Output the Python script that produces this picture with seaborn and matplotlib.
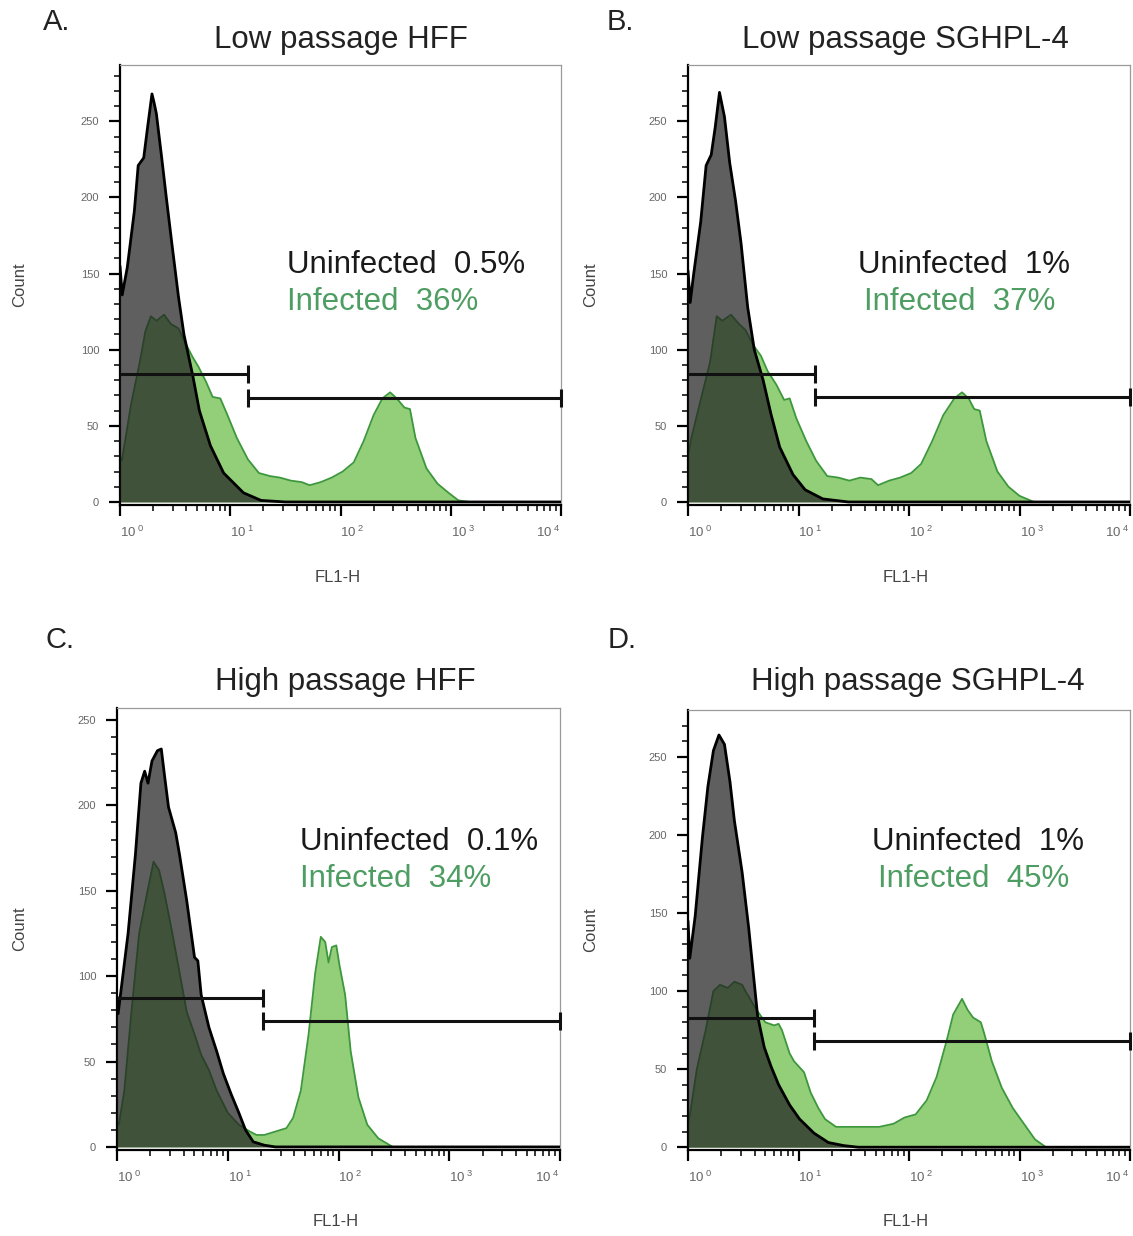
import numpy as np
import pandas as pd
import seaborn as sns
import matplotlib.pyplot as plt
from matplotlib.ticker import FixedLocator, NullFormatter, LogLocator

sns.set_style("ticks")
plt.rcParams['font.family'] = ['Liberation Sans', 'DejaVu Sans']
plt.rcParams['mathtext.fontset'] = 'custom'
plt.rcParams['mathtext.rm'] = 'Liberation Sans'
plt.rcParams['mathtext.default'] = 'regular'

# histogram outlines: FL1-H position in decades, event count
a_neg_dec = [0.0, 0.02, 0.066, 0.13, 0.165, 0.215, 0.25, 0.29, 0.31, 0.33, 0.38, 0.42, 0.47, 0.53, 0.58, 0.66, 0.72, 0.82, 0.94, 1.12, 1.28, 1.5, 4.0]
a_neg_cnt = [155, 136, 154, 191, 221, 226, 246, 268, 262, 255, 225, 200, 170, 135, 110, 83, 60, 37, 19, 6, 1, 0, 0]
a_pos_dec = [0.0, 0.017, 0.10, 0.18, 0.23, 0.28, 0.33, 0.40, 0.46, 0.53, 0.595, 0.66, 0.71, 0.78, 0.84, 0.91, 0.975, 1.06, 1.16, 1.26,
             1.36, 1.45, 1.55, 1.65, 1.72, 1.82, 1.92, 2.02, 2.12, 2.21, 2.30, 2.38, 2.45, 2.51, 2.58, 2.63, 2.68, 2.78, 2.88, 2.98,
             3.07, 3.17, 4.0]
a_pos_cnt = [30, 27, 64, 92, 112, 122, 119, 123, 117, 114, 104, 95, 89, 79, 69, 68, 57, 42, 28, 19,
             17, 16, 14, 13, 11, 13, 16, 20, 26, 40, 57, 68, 72, 68, 62, 61, 42, 22, 12, 6,
             1, 0, 0]

b_neg_dec = [0.0, 0.02, 0.05, 0.115, 0.164, 0.21, 0.246, 0.285, 0.33, 0.377, 0.43, 0.48, 0.54, 0.60, 0.68, 0.75, 0.83, 0.95, 1.06, 1.22, 1.45, 4.0]
b_neg_cnt = [152, 131, 149, 184, 221, 228, 246, 269, 253, 223, 198, 170, 128, 100, 80, 58, 36, 18, 8, 2, 0, 0]
b_pos_dec = [0.0, 0.03, 0.115, 0.2, 0.26, 0.31, 0.39, 0.46, 0.52, 0.59, 0.66, 0.72, 0.80, 0.87, 0.92, 0.98, 1.07, 1.16, 1.26, 1.36,
             1.46, 1.56, 1.66, 1.72, 1.82, 1.92, 2.02, 2.11, 2.21, 2.31, 2.41, 2.48, 2.54, 2.59, 2.64, 2.70, 2.80, 2.90, 3.0, 3.13,
             4.0]
b_pos_cnt = [30, 42, 67, 92, 122, 119, 123, 117, 113, 103, 96, 86, 77, 67, 68, 55, 40, 27, 17, 16,
             14, 16, 15, 11, 14, 16, 19, 25, 40, 57, 68, 72, 68, 61, 60, 40, 20, 10, 4, 0,
             0]

c_neg_dec = [0.0, 0.01, 0.10, 0.166, 0.216, 0.25, 0.28, 0.316, 0.365, 0.40, 0.43, 0.465, 0.53, 0.565, 0.63, 0.70, 0.73, 0.76, 0.83, 0.90,
             0.96, 1.03, 1.10, 1.16, 1.23, 1.33, 1.43, 4.0]
c_neg_cnt = [88, 78, 125, 171, 213, 220, 213, 226, 232, 233, 217, 199, 184, 171, 144, 111, 109, 89, 70, 56,
             43, 31, 20, 10, 3, 1, 0, 0]
c_pos_dec = [0.0, 0.017, 0.066, 0.13, 0.20, 0.27, 0.33, 0.38, 0.43, 0.50, 0.565, 0.63, 0.70, 0.76, 0.83, 0.90, 1.0, 1.10, 1.20, 1.26,
             1.33, 1.43, 1.53, 1.59, 1.66, 1.73, 1.79, 1.84, 1.88, 1.91, 1.94, 1.98, 2.01, 2.06, 2.11, 2.18, 2.26, 2.36, 2.49, 4.0]
c_pos_cnt = [15, 13, 33, 79, 125, 148, 167, 162, 148, 125, 102, 79, 66, 54, 45, 33, 20, 13, 9, 7,
             7, 9, 11, 17, 33, 66, 102, 123, 120, 108, 117, 118, 106, 89, 56, 29, 13, 5, 0, 0]

d_neg_dec = [0.0, 0.016, 0.065, 0.13, 0.18, 0.23, 0.28, 0.33, 0.38, 0.42, 0.49, 0.55, 0.59, 0.63, 0.69, 0.75, 0.82, 0.92, 1.01, 1.14,
             1.27, 1.41, 1.54, 4.0]
d_neg_cnt = [145, 121, 148, 198, 231, 254, 264, 258, 234, 209, 176, 140, 112, 84, 64, 52, 40, 27, 18, 9,
             3, 1, 0, 0]
d_pos_dec = [0.0, 0.016, 0.08, 0.16, 0.23, 0.29, 0.36, 0.42, 0.49, 0.52, 0.62, 0.70, 0.78, 0.82, 0.85, 0.92, 0.96, 1.05, 1.11, 1.18,
             1.24, 1.34, 1.47, 1.60, 1.73, 1.86, 1.96, 2.06, 2.16, 2.25, 2.34, 2.40, 2.48, 2.53, 2.58, 2.65, 2.68, 2.75, 2.84, 2.94,
             3.04, 3.14, 3.24, 4.0]
d_pos_cnt = [15, 20, 50, 75, 100, 104, 102, 106, 104, 100, 88, 80, 78, 79, 75, 60, 55, 48, 35, 25,
             18, 13, 13, 13, 13, 15, 19, 21, 30, 45, 68, 85, 95, 88, 83, 80, 73, 55, 38, 25,
             15, 5, 0, 0]

panel_letters = ["A.", "B.", "C.", "D."]
panel_titles = ["Low passage HFF", "Low passage SGHPL-4", "High passage HFF", "High passage SGHPL-4"]
uninfected_pct = ["0.5%", "1%", "0.1%", "1%"]
infected_pct = ["36%", "37%", "34%", "45%"]

# marker gates: split point on FL1-H, height of negative / positive bar
gate_split = [14.5, 14.0, 21.0, 13.8]
gate_neg_level = [84, 84, 87, 83]
gate_pos_level = [68, 69, 74, 68]

count_ticks = [0, 50, 100, 150, 200, 250]
fl1_ticks = [1, 10, 100, 1000, 10000]
fl1_tick_labels = ["$10^{\\ 0}$", "$10^{\\ 1}$", "$10^{\\ 2}$", "$10^{\\ 3}$", "$10^{\\ 4}$"]

neg_series = [(a_neg_dec, a_neg_cnt), (b_neg_dec, b_neg_cnt), (c_neg_dec, c_neg_cnt), (d_neg_dec, d_neg_cnt)]
pos_series = [(a_pos_dec, a_pos_cnt), (b_pos_dec, b_pos_cnt), (c_pos_dec, c_pos_cnt), (d_pos_dec, d_pos_cnt)]

W, H = 1133, 1236
fig = plt.figure(figsize=(W / 100, H / 100), dpi=100)

# layout in pixels: axes box (left, top, right, bottom), y range, text anchors
boxes = [(120, 65, 561, 505), (688, 65, 1130, 505), (117, 708, 560, 1150), (688, 710, 1130, 1150)]
ytops = [287, 287, 257, 280]
ybots = [-2, -2, -1.8, -1.8]
letter_xy = [(57, 22), (620, 22), (60, 640), (622, 640)]
title_xy = [(341, 40), (905, 40), (345, 682), (918, 682)]
unif_xy = [(287, 265), (858, 265), (300, 842), (872, 842)]
inf_xy = [(287, 302), (864, 302), (300, 879), (878, 879)]
count_x = [20, 591, 20, 591]
fl1_y = [578, 578, 1222, 1222]

green_fill = "#92cf78"
green_line = "#3d973d"

for i in range(4):
    l, t, r, b = boxes[i]
    ax = fig.add_axes([l / W, 1 - b / H, (r - l) / W, (b - t) / H])

    neg = pd.DataFrame({"FL1-H": 10 ** np.array(neg_series[i][0]), "Count": neg_series[i][1]})
    pos = pd.DataFrame({"FL1-H": 10 ** np.array(pos_series[i][0]), "Count": pos_series[i][1]})

    ax.fill_between(pos["FL1-H"], 0, pos["Count"], color=green_fill, lw=0, zorder=1)
    sns.lineplot(data=pos, x="FL1-H", y="Count", ax=ax, color=green_line, lw=1.3,
                 estimator=None, sort=False, zorder=2)
    ax.fill_between(neg["FL1-H"], 0, neg["Count"], color="#222222", alpha=0.72, lw=0, zorder=3)
    sns.lineplot(data=neg, x="FL1-H", y="Count", ax=ax, color="black", lw=2.0,
                 estimator=None, sort=False, zorder=4)

    # gates
    ax.plot([1, gate_split[i]], [gate_neg_level[i]] * 2, color="#111111", lw=2.2,
            marker="|", markevery=[1], ms=13, mew=2.2, zorder=5, solid_capstyle="butt")
    ax.plot([gate_split[i], 10000], [gate_pos_level[i]] * 2, color="#111111", lw=2.2,
            marker="|", ms=13, mew=2.2, zorder=5, solid_capstyle="butt", clip_on=False)

    ax.set_xscale("log")
    ax.set_xlim(1, 10000)
    ax.set_ylim(ybots[i], ytops[i])

    ax.set_xticks(fl1_ticks)
    ax.set_xticklabels(fl1_tick_labels)
    ax.xaxis.set_minor_locator(LogLocator(base=10, subs=np.arange(2, 10)))
    ax.xaxis.set_minor_formatter(NullFormatter())
    for j, lab in enumerate(ax.get_xticklabels()):
        lab.set_horizontalalignment("right" if j == len(fl1_ticks) - 1 else "left")

    ax.set_yticks(count_ticks)
    ax.yaxis.set_minor_locator(FixedLocator(np.arange(0, ytops[i], 10)))

    ax.tick_params(axis="both", which="major", direction="out", length=8, width=1.6,
                   color="black", labelcolor="#666666")
    ax.tick_params(axis="both", which="minor", direction="out", length=4, width=1.1, color="black")
    ax.tick_params(axis="x", which="major", labelsize=9.5, pad=6)
    ax.tick_params(axis="y", which="major", labelsize=8, pad=7)

    for side in ["left", "bottom"]:
        ax.spines[side].set_color("black")
        ax.spines[side].set_linewidth(1.6)
    for side in ["top", "right"]:
        ax.spines[side].set_color("#9a9a9a")
        ax.spines[side].set_linewidth(0.9)

    ax.set_xlabel("FL1-H", fontsize=12, color="#444444")
    ax.set_ylabel("Count", fontsize=12, color="#444444")
    ax.xaxis.set_label_coords(((l + r) / 2 - 3 - l) / (r - l), (b - fl1_y[i] + 8) / (b - t))
    ax.yaxis.set_label_coords((count_x[i] + 7 - l) / (r - l), 0.5)

    fig.text(letter_xy[i][0] / W, 1 - letter_xy[i][1] / H, panel_letters[i],
             fontsize=21, color="#222222", ha="center", va="center")
    fig.text(title_xy[i][0] / W, 1 - title_xy[i][1] / H, panel_titles[i],
             fontsize=22.5, color="#222222", ha="center", va="center")
    fig.text(unif_xy[i][0] / W, 1 - unif_xy[i][1] / H, "Uninfected  " + uninfected_pct[i],
             fontsize=22.5, color="#1a1a1a", ha="left", va="center")
    fig.text(inf_xy[i][0] / W, 1 - inf_xy[i][1] / H, "Infected  " + infected_pct[i],
             fontsize=22.5, color="#4e9d62", ha="left", va="center")

fig.savefig("out.png", dpi=100)
